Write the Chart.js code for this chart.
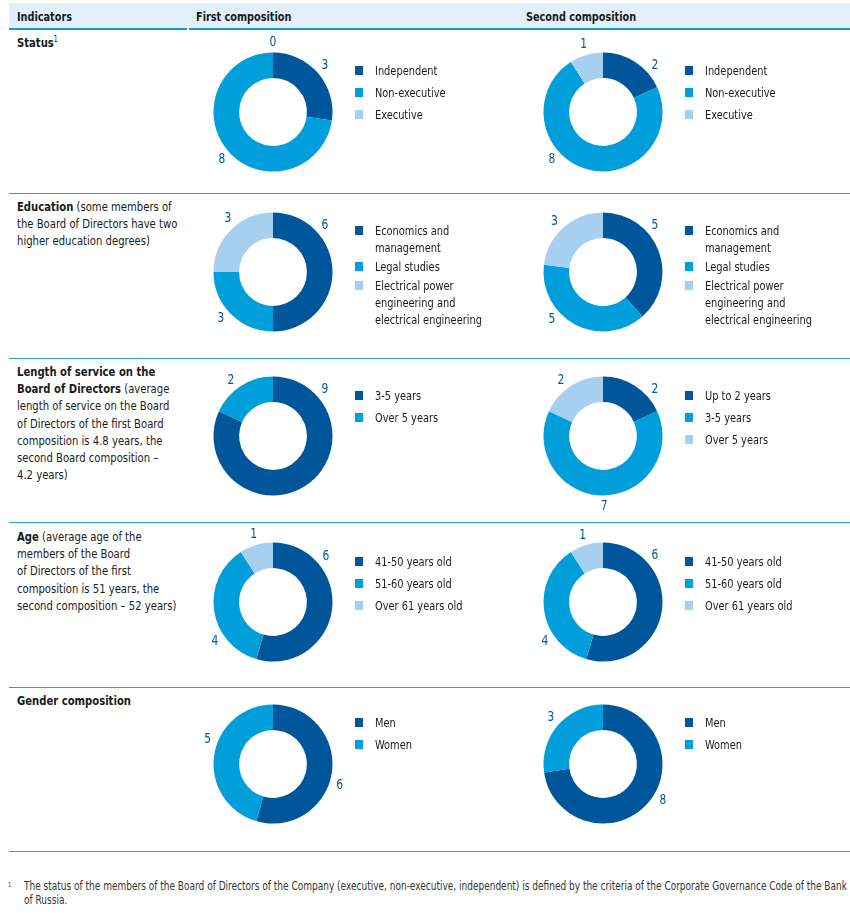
<!DOCTYPE html>
<html>
<head>
<meta charset="utf-8">
<script src="https://cdn.jsdelivr.net/npm/chart.js@4.4.1/dist/chart.umd.min.js"></script>
<style>
  body { margin: 0; background: #fff; }
  #page {
    position: relative; width: 850px; height: 913px; overflow: hidden;
    font-family: "DejaVu Sans Condensed", "Liberation Sans Narrow", sans-serif;
    color: #1a1a1a;
  }
  .abs { position: absolute; }
  .band { left: 9px; top: 3px; width: 841px; height: 25px; background: #e3f0fb; }
  .thick { top: 28px; height: 2px; background: #0f9bd7; }
  .rule { left: 9px; width: 841px; height: 1px; background: #2a9fd6; }
  .head { top: 7px; font-size: 13px; font-weight: bold; line-height: 20px; white-space: nowrap;
          transform: scaleX(0.83); transform-origin: 0 0; }
  .title { left: 17px; font-size: 13px; line-height: 17.2px; white-space: nowrap;
           transform: scaleX(0.86); transform-origin: 0 0; }
  .title sup { font-size: 8px; vertical-align: 5px; line-height: 0; }
  .legend { font-size: 13px; line-height: 17px; }
  .legend .item { display: flex; align-items: flex-start; margin-bottom: 5px; }
  .legend.tight .item { margin-bottom: 2px; }
  .legend .sw { width: 8px; height: 9px; margin-top: 4px; margin-right: 12px; flex: none; }
  .legend .txt { display: inline-block; white-space: nowrap; transform: scaleX(0.84); transform-origin: 0 0; }
  .note { font-size: 12px; line-height: 14px; color: #333; white-space: nowrap;
          transform: scaleX(0.833); transform-origin: 0 0; }
  canvas.donut { position: absolute; }
</style>
</head>
<body>
<div id="page">
  <div class="abs band"></div>
  <div class="abs thick" style="left:9px;width:178px"></div>
  <div class="abs thick" style="left:189px;width:661px"></div>
  <div class="abs head" style="left:17px">Indicators</div>
  <div class="abs head" style="left:196px">First composition</div>
  <div class="abs head" style="left:526px">Second composition</div>

  <div class="abs rule" style="top:193px"></div>
  <div class="abs rule" style="top:358px"></div>
  <div class="abs rule" style="top:522px"></div>
  <div class="abs rule" style="top:687px"></div>
  <div class="abs rule" style="top:851px"></div>

  <div class="abs title" style="top:34px"><b>Status</b><sup>1</sup></div>
  <div class="abs title" style="top:198px"><b>Education</b> (some members of<br>the Board of Directors have two<br>higher education degrees)</div>
  <div class="abs title" style="top:363px"><b>Length of service on the<br>Board of Directors</b> (average<br>length of service on the Board<br>of Directors of the first Board<br>composition is 4.8 years, the<br>second Board composition –<br>4.2 years)</div>
  <div class="abs title" style="top:528px"><b>Age</b> (average age of the<br>members of the Board<br>of Directors of the first<br>composition is 51 years, the<br>second composition – 52 years)</div>
  <div class="abs title" style="top:692px"><b>Gender composition</b></div>

  <div class="abs note" style="left:8px;top:878px;font-size:7px">1</div>
  <div class="abs note" style="left:24px;top:879px">The status of the members of the Board of Directors of the Company (executive, non-executive, independent) is defined by the criteria of the Corporate Governance Code of the Bank<br>of Russia.</div>
</div>

<script>
// colours of the three shades used in every donut
const COLORS = ['#00569a', '#009fdb', '#a7cff0'];
const LABEL_COLOR = '#00569a';

// ---- data ----
const statusLabels = ['Independent', 'Non-executive', 'Executive'];
const statusFirst = [3, 8, 0];
const statusSecond = [2, 8, 1];

const educationLabels = [['Economics and', 'management'], 'Legal studies', ['Electrical power', 'engineering and', 'electrical engineering']];
const educationFirst = [6, 3, 3];
const educationSecond = [5, 5, 3];

const serviceLabelsFirst = ['3-5 years', 'Over 5 years'];
const serviceFirst = [9, 2];
const serviceLabelsSecond = ['Up to 2 years', '3-5 years', 'Over 5 years'];
const serviceSecond = [2, 7, 2];

const ageLabels = ['41-50 years old', '51-60 years old', 'Over 61 years old'];
const ageFirst = [6, 4, 1];
const ageSecond = [6, 4, 1];

const genderLabels = ['Men', 'Women'];
const genderFirst = [6, 5];
const genderSecond = [8, 3];

// where the numbers sit round each ring (degrees, clockwise from 12 o'clock)
const charts = [
  {row: 0, col: 0, labels: statusLabels, values: statusFirst, angles: [48, 227, 0]},
  {row: 0, col: 1, labels: statusLabels, values: statusSecond, angles: [48, 227, 344]},
  {row: 1, col: 0, labels: educationLabels, values: educationFirst, angles: [48, 228, 320], tight: true},
  {row: 1, col: 1, labels: educationLabels, values: educationSecond, angles: [48, 227, 316], tight: true},
  {row: 2, col: 0, labels: serviceLabelsFirst, values: serviceFirst, angles: [48, 323]},
  {row: 2, col: 1, labels: serviceLabelsSecond, values: serviceSecond, angles: [48, 179, 323]},
  {row: 3, col: 0, labels: ageLabels, values: ageFirst, angles: [49, 236, 344]},
  {row: 3, col: 1, labels: ageLabels, values: ageSecond, angles: [48, 236, 343]},
  {row: 4, col: 0, labels: genderLabels, values: genderFirst, angles: [108, 291]},
  {row: 4, col: 1, labels: genderLabels, values: genderSecond, angles: [121, 312]}
];

const ROW_CY = [111.5, 272, 436, 602, 764];
const COL_CX = [273.3, 603.3];
const LEGEND_X = [355, 685];
const LEGEND_TOP = [62, 221.5, 386.5, 552.5, 714];
const BOX = 180;

const valueLabels = {
  id: 'valueLabels',
  afterDatasetsDraw(chart, args, opts) {
    const ctx = chart.ctx;
    const meta = chart.getDatasetMeta(0);
    const values = chart.data.datasets[0].data;
    ctx.save();
    ctx.fillStyle = LABEL_COLOR;
    ctx.font = '14px "DejaVu Sans Condensed", sans-serif';
    ctx.textAlign = 'center';
    ctx.textBaseline = 'middle';
    meta.data.forEach((arc, i) => {
      const p = arc.getProps(['x', 'y', 'outerRadius'], true);
      const a = (opts.angles[i] - 90) * Math.PI / 180;
      const r = p.outerRadius + 10.5;
      const lx = p.x + Math.cos(a) * r;
      const ly = p.y + Math.sin(a) * r;
      // narrow the digits a little, like the condensed face of the original
      ctx.save();
      ctx.translate(lx, ly);
      ctx.scale(0.85, 1);
      ctx.fillText(String(values[i]), 0, 0);
      ctx.restore();
    });
    ctx.restore();
  }
};

const page = document.getElementById('page');

charts.forEach(c => {
  const canvas = document.createElement('canvas');
  canvas.className = 'donut';
  canvas.width = BOX;
  canvas.height = BOX;
  canvas.style.width = BOX + 'px';
  canvas.style.height = BOX + 'px';
  canvas.style.left = (COL_CX[c.col] - BOX / 2) + 'px';
  canvas.style.top = (ROW_CY[c.row] - BOX / 2) + 'px';
  page.appendChild(canvas);

  const chart = new Chart(canvas.getContext('2d'), {
    type: 'doughnut',
    data: {
      labels: c.labels,
      datasets: [{
        data: c.values,
        backgroundColor: COLORS.slice(0, c.values.length),
        borderWidth: 0
      }]
    },
    options: {
      responsive: false,
      maintainAspectRatio: false,
      animation: false,
      events: [],
      cutout: '57%',
      layout: {padding: 30.5},
      plugins: {
        legend: {display: false},
        tooltip: {enabled: false},
        valueLabels: {angles: c.angles}
      }
    },
    plugins: [valueLabels]
  });

  // legend built from the chart's own labels and colours
  const legend = document.createElement('div');
  legend.className = 'abs legend' + (c.tight ? ' tight' : '');
  legend.style.left = LEGEND_X[c.col] + 'px';
  legend.style.top = LEGEND_TOP[c.row] + 'px';
  chart.data.labels.forEach((lab, i) => {
    const item = document.createElement('div');
    item.className = 'item';
    const sw = document.createElement('span');
    sw.className = 'sw';
    sw.style.background = chart.data.datasets[0].backgroundColor[i];
    const txt = document.createElement('span');
    txt.className = 'txt';
    txt.innerHTML = Array.isArray(lab) ? lab.join('<br>') : lab;
    item.appendChild(sw);
    item.appendChild(txt);
    legend.appendChild(item);
  });
  page.appendChild(legend);
});
</script>
</body>
</html>
